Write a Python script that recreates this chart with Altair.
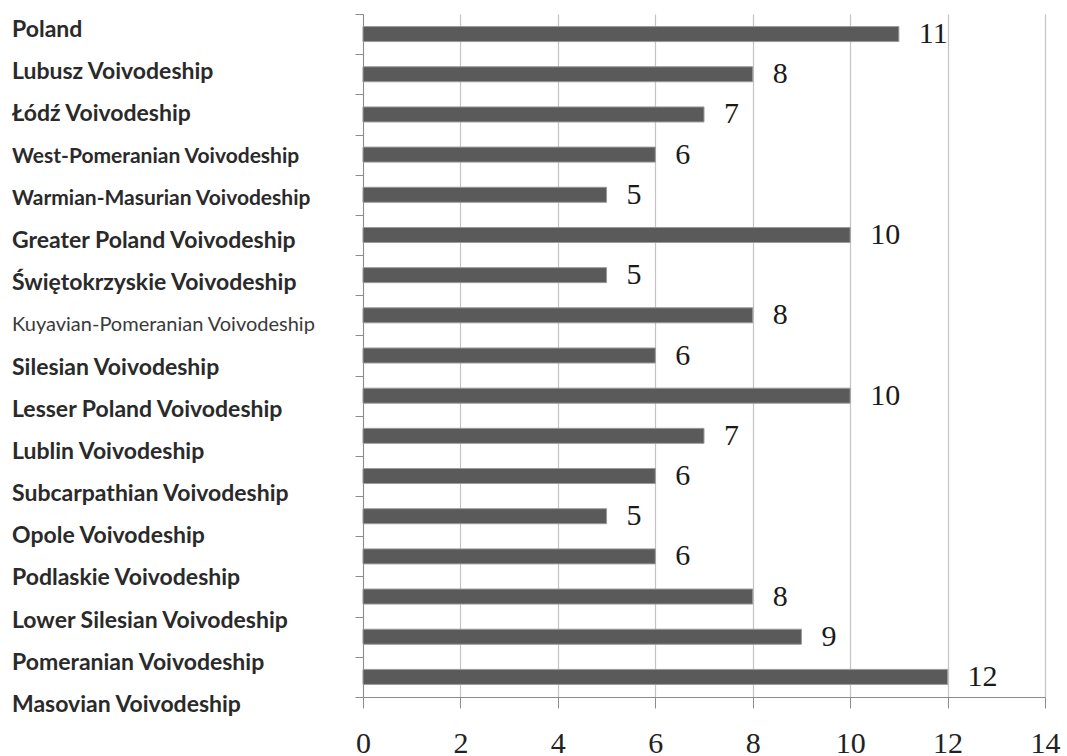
import altair as alt
import pandas as pd

# Regions listed top to bottom, with the value shown for each
regions = [
    "Poland",
    "Lubusz Voivodeship",
    "Łódź Voivodeship",
    "West-Pomeranian Voivodeship",
    "Warmian-Masurian Voivodeship",
    "Greater Poland Voivodeship",
    "Świętokrzyskie Voivodeship",
    "Kuyavian-Pomeranian Voivodeship",
    "Silesian Voivodeship",
    "Lesser Poland Voivodeship",
    "Lublin Voivodeship",
    "Subcarpathian Voivodeship",
    "Opole Voivodeship",
    "Podlaskie Voivodeship",
    "Lower Silesian Voivodeship",
    "Pomeranian Voivodeship",
    "Masovian Voivodeship",
]
counts = [11, 8, 7, 6, 5, 10, 5, 8, 6, 10, 7, 6, 5, 6, 8, 9, 12]
x_ticks = [0, 2, 4, 6, 8, 10, 12, 14]
# Long names set in a tighter type, and one set in a small regular face
compact_labels = ["West-Pomeranian Voivodeship", "Warmian-Masurian Voivodeship"]
small_labels = ["Kuyavian-Pomeranian Voivodeship"]

df = pd.DataFrame({"region": regions, "count": counts, "order": list(range(len(regions)))})

SERIF = "Liberation Serif"
GRID = "#c4c4c4"
AXIS = "#8c8c8c"

x_enc = alt.X(
    "count:Q",
    scale=alt.Scale(domain=[0, 14], nice=False),
    axis=alt.Axis(
        values=x_ticks,
        title=None,
        grid=True,
        gridColor=GRID,
        gridWidth=1.2,
        domainColor=AXIS,
        tickColor=AXIS,
        tickSize=11,
        labelFont=SERIF,
        labelFontSize=30,
        labelColor="#222222",
        labelPadding=20,
        labelFlush=False,
    ),
)
y_enc = alt.Y(
    "region:N",
    sort=regions,
    scale=alt.Scale(paddingInner=0, paddingOuter=0),
    axis=alt.Axis(
        labels=False,
        title=None,
        grid=False,
        tickBand="extent",
        tickSize=8,
        tickColor=AXIS,
        domainColor=AXIS,
    ),
)

bars = alt.Chart(df).mark_bar(
    size=15, color="#5a5a5a", stroke="#9a9a9a", strokeWidth=1
).encode(x=x_enc, y=y_enc)

values = alt.Chart(df).mark_text(
    align="left", baseline="middle", dx=20, font=SERIF, fontSize=30, color="#1a1a1a"
).encode(x=x_enc, y=y_enc, text="count:Q")

# Category names sit in their own column to the left of the plot
label_y = alt.Y(
    "order:Q", scale=alt.Scale(domain=[0, len(regions) - 1], range=[16, 691]), axis=None
)


def name_layer(predicate, **style):
    return (
        alt.Chart(df)
        .transform_filter(predicate)
        .mark_text(align="left", baseline="middle", font="Lato", **style)
        .encode(x=alt.value(-351), y=label_y, text="region:N")
    )


special = compact_labels + small_labels
names = name_layer(
    ~alt.FieldOneOfPredicate(field="region", oneOf=special),
    fontWeight="bold", fontSize=23, color="#2a2a2a",
)
names_compact = name_layer(
    alt.FieldOneOfPredicate(field="region", oneOf=compact_labels),
    fontWeight="bold", fontSize=21, color="#2a2a2a",
)
names_small = name_layer(
    alt.FieldOneOfPredicate(field="region", oneOf=small_labels),
    fontSize=20, color="#3a3a3a",
)

chart = (
    alt.layer(alt.layer(bars, values), names, names_compact, names_small)
    .resolve_scale(y="independent")
    .properties(
        width=682,
        height=683,
        autosize=alt.AutoSizeParams(type="none"),
        padding={"left": 363, "top": 14, "right": 22, "bottom": 59},
        background="white",
    )
    .configure_view(stroke=None)
)

chart.save("out.html", embed_options={"renderer": "svg", "actions": False})
